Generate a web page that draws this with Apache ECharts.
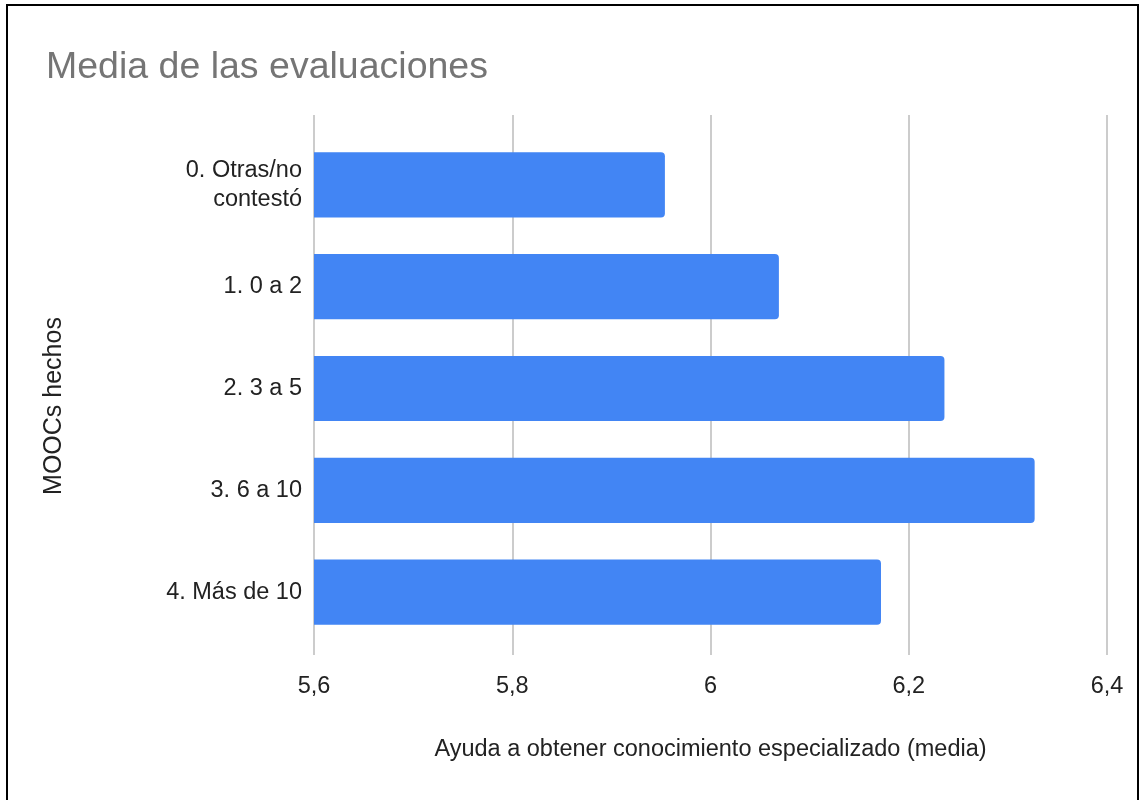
<!DOCTYPE html>
<html>
<head>
<meta charset="utf-8">
<title>Media de las evaluaciones</title>
<script src="https://cdn.jsdelivr.net/npm/echarts@6/dist/echarts.min.js"></script>
<style>
  html, body { margin: 0; padding: 0; background: #fff; }
  #chart { width: 1143px; height: 800px; }
  #frame {
    position: absolute; left: 6px; top: 4px; width: 1133px; height: 800px;
    border: 2px solid #000; box-sizing: border-box; pointer-events: none;
  }
</style>
</head>
<body>
<div id="chart"></div>
<div id="frame"></div>
<script>
// datos
const categories = ['0. Otras/no\ncontestó', '1. 0 a 2', '2. 3 a 5', '3. 6 a 10', '4. Más de 10'];
const medias = [5.954, 6.069, 6.236, 6.327, 6.172];
const xMin = 5.6;
const xMax = 6.4;
const xStep = 0.2;

const FONT = '"Liberation Sans", Arial, sans-serif';

const chart = echarts.init(document.getElementById('chart'));

const option = {
  animation: false,
  title: {
    text: 'Media de las evaluaciones',
    left: 41,
    top: 44,
    textStyle: { fontFamily: FONT, fontSize: 37.5, fontWeight: 'normal', color: '#757575' }
  },
  grid: [
    // barras
    { left: 314, right: 36, top: 134, height: 509 },
    // solo líneas de cuadrícula y etiquetas
    { left: 314, right: 36, top: 115, height: 540 }
  ],
  xAxis: [
    {
      gridIndex: 0, type: 'value', min: xMin, max: xMax, interval: xStep,
      axisLine: { show: false }, axisTick: { show: false },
      axisLabel: { show: false }, splitLine: { show: false }
    },
    {
      gridIndex: 1, type: 'value', min: xMin, max: xMax, interval: xStep,
      axisLine: { show: false }, axisTick: { show: false },
      splitLine: { show: true, lineStyle: { color: '#cccccc', width: 2 } },
      axisLabel: {
        margin: 20, fontFamily: FONT, fontSize: 23.5, color: '#222',
        formatter: v => String(Math.round(v * 10) / 10).replace('.', ',')
      },
      name: 'Ayuda a obtener conocimiento especializado (media)',
      nameLocation: 'middle',
      nameGap: 83,
      nameTextStyle: { fontFamily: FONT, fontSize: 23.5, color: '#222' }
    }
  ],
  yAxis: [
    {
      gridIndex: 0, type: 'category', data: categories, inverse: true,
      axisLine: { show: false }, axisTick: { show: false },
      axisLabel: { margin: 12, fontFamily: FONT, fontSize: 23.5, color: '#222', lineHeight: 29 }
    },
    { gridIndex: 1, type: 'value', show: false }
  ],
  graphic: [{
    type: 'text',
    x: 54, y: 406,
    rotation: Math.PI / 2,
    style: {
      text: 'MOOCs hechos', fontFamily: FONT, fontSize: 25, fill: '#222',
      align: 'center', verticalAlign: 'middle'
    }
  }],
  series: [{
    type: 'bar',
    xAxisIndex: 0, yAxisIndex: 0,
    data: medias,
    barWidth: '64%',
    clip: true,
    itemStyle: { color: '#4285f4', borderRadius: [0, 4, 4, 0] }
  }]
};

chart.setOption(option);

window.addEventListener('resize', () => {
  chart.resize();
});
</script>
</body>
</html>
